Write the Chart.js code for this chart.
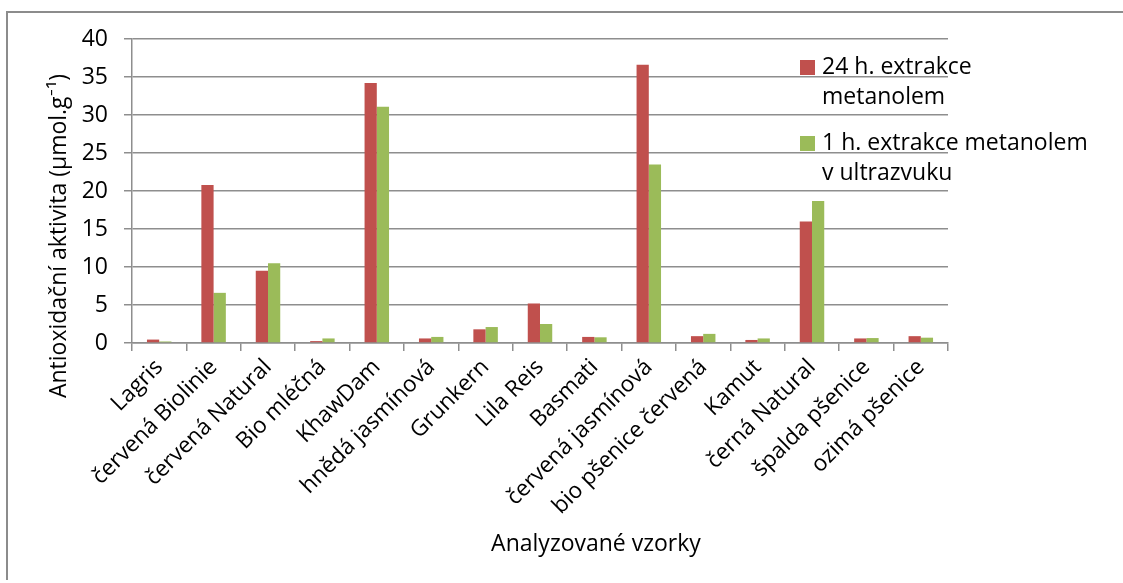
<!DOCTYPE html>
<html>
<head>
<meta charset="utf-8">
<script src="https://cdn.jsdelivr.net/npm/chart.js@4.4.1/dist/chart.umd.min.js"></script>
<style>
  html, body { margin: 0; padding: 0; background: #fff; }
  #wrap { width: 1123px; height: 583px; position: relative; }
</style>
</head>
<body>
<div id="wrap"><canvas id="chart"></canvas></div>
<script>
// Samples and measured antioxidant activity
const samples = [
    'Lagris', 'červená Biolinie', 'červená Natural', 'Bio mléčná', 'KhawDam',
    'hnědá jasmínová', 'Grunkern', 'Lila Reis', 'Basmati', 'červená jasmínová',
    'bio pšenice červená', 'Kamut', 'černá Natural', 'špalda pšenice', 'ozimá pšenice'
];
const methanol24h = [0.45, 20.8, 9.5, 0.25, 34.2, 0.6, 1.8, 5.2, 0.8, 36.6, 0.9, 0.4, 16.0, 0.6, 0.9];
const ultrasound1h = [0.2, 6.6, 10.5, 0.6, 31.1, 0.8, 2.1, 2.5, 0.75, 23.5, 1.2, 0.6, 18.7, 0.65, 0.7];
const yTicks = [0, 5, 10, 15, 20, 25, 30, 35, 40];

const seriesNames = [['24 h. extrakce', 'metanolem'], ['1 h. extrakce metanolem', 'v ultrazvuku']];
const seriesColors = ['#C0504D', '#9BBB59'];

const FONT = '"Open Sans", Lato, sans-serif';
const gridGray = '#8e8e8e';

// frame, axis titles and legend drawn on top of the chart
const decorations = {
    id: 'decorations',
    afterDraw(chart) {
        const ctx = chart.ctx;
        ctx.save();

        // outer frame (top and left edge)
        ctx.strokeStyle = '#8c8c8c';
        ctx.lineWidth = 2;
        ctx.beginPath();
        ctx.moveTo(7, 580);
        ctx.lineTo(7, 12);
        ctx.lineTo(1123, 12);
        ctx.stroke();

        ctx.fillStyle = '#000';
        ctx.textBaseline = 'middle';

        // y axis title
        ctx.font = '23px ' + FONT;
        ctx.save();
        ctx.translate(59, 236);
        ctx.rotate(-Math.PI / 2);
        ctx.textAlign = 'center';
        ctx.fillText('Antioxidační aktivita (µmol.g⁻¹)', 0, 0);
        ctx.restore();

        // x axis title
        ctx.textAlign = 'center';
        ctx.fillText('Analyzované vzorky', 596, 544);

        // legend
        ctx.textAlign = 'left';
        const legendTop = [67, 143];
        seriesNames.forEach((lines, i) => {
            ctx.fillStyle = seriesColors[i];
            ctx.fillRect(800, legendTop[i] - 7, 15, 15);
            ctx.fillStyle = '#000';
            lines.forEach((line, j) => {
                ctx.fillText(line, 822, legendTop[i] + j * 30);
            });
        });
        ctx.restore();
    }
};

new Chart(document.getElementById('chart').getContext('2d'), {
    type: 'bar',
    data: {
        labels: samples,
        datasets: [
            { label: seriesNames[0].join(' '), data: methanol24h, backgroundColor: seriesColors[0] },
            { label: seriesNames[1].join(' '), data: ultrasound1h, backgroundColor: seriesColors[1] }
        ]
    },
    options: {
        responsive: true,
        maintainAspectRatio: false,
        animation: false,
        layout: { padding: { left: 0, right: 175, top: 39, bottom: 0 } },
        datasets: { bar: { barPercentage: 1, categoryPercentage: 0.45 } },
        plugins: { legend: { display: false }, tooltip: { enabled: false } },
        scales: {
            x: {
                grid: { offset: true, drawOnChartArea: false, drawTicks: true, tickLength: 8, color: gridGray, lineWidth: 1.5 },
                border: { color: gridGray, width: 1.5 },
                ticks: {
                    color: '#000',
                    font: { family: FONT, size: 22.5 },
                    maxRotation: 45,
                    minRotation: 45,
                    autoSkip: false,
                    padding: 3
                },
                afterFit(scale) { scale.height = 240; }
            },
            y: {
                min: 0,
                max: 40,
                afterBuildTicks(scale) { scale.ticks = yTicks.map(v => ({ value: v })); },
                grid: { color: gridGray, lineWidth: 1.5, tickLength: 8 },
                border: { color: gridGray, width: 1.5 },
                ticks: { color: '#000', font: { family: FONT, size: 23 }, padding: 16 },
                afterFit(scale) { scale.width = 132; }
            }
        }
    },
    plugins: [decorations]
});
</script>
</body>
</html>
